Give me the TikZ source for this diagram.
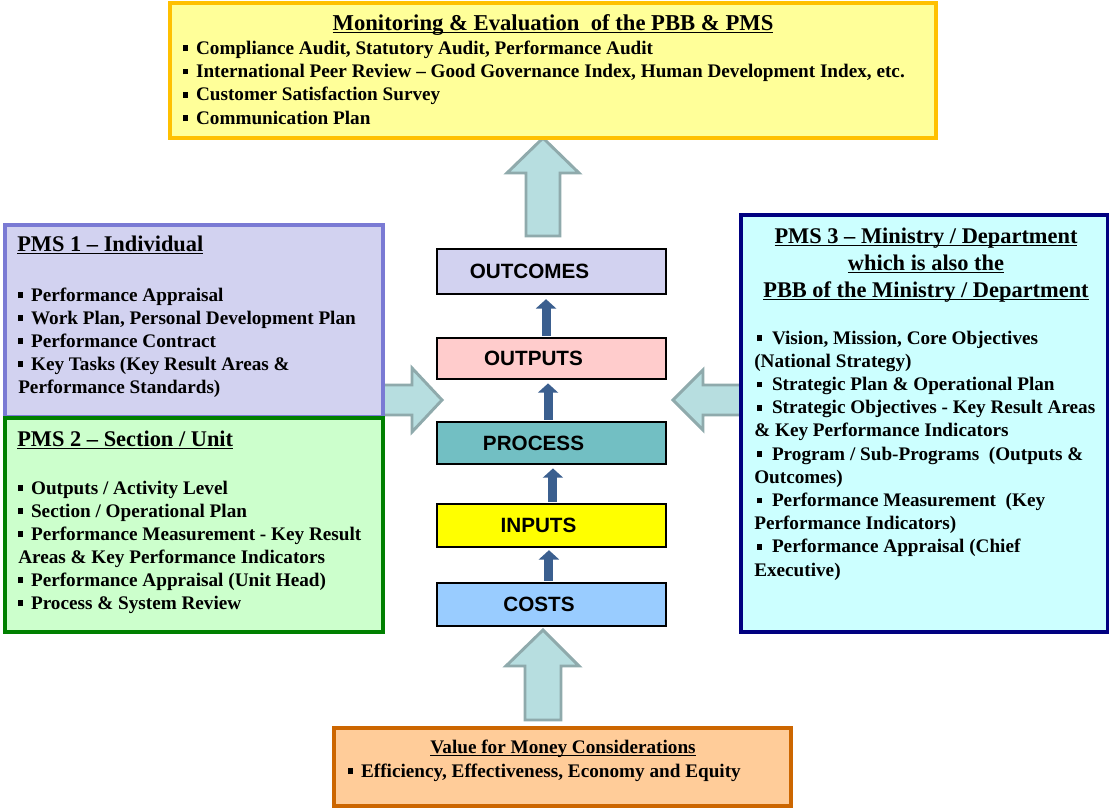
\documentclass[tikz,border=0pt]{standalone}
\usepackage{fontspec}
\usepackage{graphicx}
\setmainfont{Liberation Serif}
\newfontfamily\arialfont{Liberation Sans}
\usetikzlibrary{arrows.meta,fit}
\definecolor{gold}{HTML}{FFC000}
\definecolor{lyellow}{HTML}{FFFF99}
\definecolor{lavborder}{HTML}{7A7AD4}
\definecolor{lavfill}{HTML}{D2D2F0}
\definecolor{grborder}{HTML}{008000}
\definecolor{grfill}{HTML}{CCFFCC}
\definecolor{navy}{HTML}{000080}
\definecolor{cyfill}{HTML}{CCFFFF}
\definecolor{orborder}{HTML}{CC6600}
\definecolor{orfill}{HTML}{FFCC99}
\definecolor{pinkfill}{HTML}{FFCCCC}
\definecolor{tealfill}{HTML}{72BFC3}
\definecolor{yelfill}{HTML}{FFFF00}
\definecolor{bluefill}{HTML}{99CCFF}
\definecolor{arrowfill}{HTML}{B7DEE0}
\definecolor{arrowdraw}{HTML}{8FAAAC}
\definecolor{flowblue}{HTML}{3B5F8F}
\newcommand\bul{\rule[2.2pt]{3.6pt}{4.3pt}\hspace{6pt}}
\newcommand\bulw{\hspace{2.2pt}\rule[2.2pt]{3.6pt}{4.3pt}\hspace{7.5pt}}
\newcommand\myul[1]{\setbox0\hbox{#1}\rlap{\rule[-2.4pt]{\wd0}{1pt}}\box0}
\newcommand\txtlines[2]{\vtop{\baselineskip=#1\lineskiplimit=-100pt\lineskip=0pt\relax #2}}
\newcommand\ctr[1]{\hbox to 0pt{\hss #1\hss}}
\tikzset{
  box/.style={inner sep=0pt, line width=2.3pt},
  stage/.style={inner sep=0pt, draw=black, line width=1.8pt},
  body/.style={inner sep=0pt, font=\fontsize{14.4}{17.25}\selectfont\bfseries},
  ttl/.style={inner sep=0pt, font=\fontsize{16.8}{20}\selectfont\bfseries},
  stagetext/.style={inner sep=0pt, anchor=base, font=\arialfont\fontsize{15.5}{18}\selectfont\bfseries},
  bigarrow/.style={fill=arrowfill, draw=arrowdraw, line width=2.2pt, line join=miter},
  flow/.style={draw=flowblue, line width=6.75pt, -{Triangle[width=15pt 0, length=7pt 0]}}
}
\begin{document}
\begin{tikzpicture}[x=0.75pt,y=-0.75pt]
\fill[white] (0,0) rectangle (1110,810);
\useasboundingbox (0,0) rectangle (1110,810);

% big block arrows
\draw[bigarrow] (526,236) -- (526,173) -- (507,173) -- (543,138) -- (579,173) -- (560,173) -- (560,236) -- cycle;
\draw[bigarrow] (380,385) -- (412,385) -- (412,368) -- (442,400) -- (412,432) -- (412,415) -- (380,415) -- cycle;
\draw[bigarrow] (744,385) -- (703,385) -- (703,370) -- (673,400) -- (703,430) -- (703,415) -- (744,415) -- cycle;
\draw[bigarrow] (525,720) -- (525,666) -- (506,666) -- (543,630) -- (579,666) -- (561,666) -- (561,720) -- cycle;

% boxes
\node[box, draw=gold, fill=lyellow, fit={(170,3) (936,138)}] (mon) {};
\node[box, draw=lavborder, fill=lavfill, fit={(5,225) (383,417)}] (pms1) {};
\node[box, draw=grborder, fill=grfill, fit={(5,418) (383,632)}] (pms2) {};
\node[box, draw=navy, fill=cyfill, fit={(741,215) (1107.5,632)}] (pms3) {};
\node[box, draw=orborder, fill=orfill, fit={(334,728) (791,806)}] (vfm) {};

% stages
\node[stage, fill=lavfill, fit={(437,249) (666,294)}] (outcomes) {};
\node[stage, fill=pinkfill, fit={(437,338) (666,379)}] (outputs) {};
\node[stage, fill=tealfill, fit={(437,422) (666,464)}] (process) {};
\node[stage, fill=yelfill, fit={(437,504) (666,547)}] (inputs) {};
\node[stage, fill=bluefill, fit={(437,583) (666,626)}] (costs) {};

\node[stagetext] (outcomesT) at (529.5,278) {OUTCOMES};
\node[stagetext] (outputsT) at (533.5,365) {OUTPUTS};
\node[stagetext] (processT) at (533.5,450) {PROCESS};
\node[stagetext] (inputsT) at (538.5,532) {INPUTS};
\node[stagetext] (costsT) at (539,611) {COSTS};

% small flow arrows
\draw[flow] ([xshift=-4.1pt,yshift=0.9pt]outputs.north) -- ([xshift=-4.1pt,yshift=-3pt]outcomes.south);
\draw[flow] ([xshift=-2.6pt,yshift=0.9pt]process.north) -- ([xshift=-2.6pt,yshift=-2.4pt]outputs.south);
\draw[flow] ([xshift=1.1pt,yshift=0.9pt]inputs.north) -- ([xshift=1.1pt,yshift=-2.4pt]process.south);
\draw[flow] ([xshift=-1.9pt,yshift=0.9pt]costs.north) -- ([xshift=-1.9pt,yshift=-1.5pt]inputs.south);

% top box text
\node[inner sep=0pt, anchor=base, font=\fontsize{17}{20}\selectfont\bfseries] (monT) at (553,30)
  {\myul{Monitoring \& Evaluation\ \ of the PBB \& PMS}};
\node[body, anchor=base west] (monB) at (183,54) {\txtlines{17.5pt}{%
  \hbox{\bul Compliance Audit, Statutory Audit, Performance Audit}%
  \hbox{\bul International Peer Review -- Good Governance Index, Human Development Index, etc.}%
  \hbox{\bul Customer Satisfaction Survey}%
  \hbox{\bul Communication Plan}}};

% PMS 1
\node[ttl, anchor=base west] (pms1T) at (17,251) {\myul{PMS 1 -- Individual}};
\node[body, anchor=base west] (pms1B) at (18,301) {\txtlines{17.25pt}{%
  \hbox{\bul Performance Appraisal}%
  \hbox{\bul Work Plan, Personal Development Plan}%
  \hbox{\bul Performance Contract}%
  \hbox{\bul Key Tasks (Key Result Areas \&}%
  \hbox{Performance Standards)}}};

% PMS 2
\node[ttl, anchor=base west] (pms2T) at (17,446) {\myul{PMS 2 -- Section / Unit}};
\node[body, anchor=base west] (pms2B) at (18,494) {\txtlines{17.25pt}{%
  \hbox{\bul Outputs / Activity Level}%
  \hbox{\bul Section / Operational Plan}%
  \hbox{\bul Performance Measurement - Key Result}%
  \hbox{Areas \& Key Performance Indicators}%
  \hbox{\bul Performance Appraisal (Unit Head)}%
  \hbox{\bul Process \& System Review}}};

% PMS 3
\node[ttl, anchor=base] (pms3T) at (926,243) {\txtlines{20.25pt}{%
  \ctr{\myul{PMS 3 -- Ministry / Department}}%
  \ctr{\myul{which is also the}}%
  \ctr{\myul{PBB of the Ministry / Department}}}};
\node[body, anchor=base west] (pms3B) at (754,344) {\txtlines{17.4pt}{%
  \hbox{\bulw Vision, Mission, Core Objectives}%
  \hbox{(National Strategy)}%
  \hbox{\bulw Strategic Plan \& Operational Plan}%
  \hbox{\bulw Strategic Objectives - Key Result Areas}%
  \hbox{\& Key Performance Indicators}%
  \hbox{\bulw Program / Sub-Programs\ \ (Outputs \&}%
  \hbox{Outcomes)}%
  \hbox{\bulw Performance Measurement\ \ (Key}%
  \hbox{Performance Indicators)}%
  \hbox{\bulw Performance Appraisal (Chief}%
  \hbox{Executive)}}};

% bottom box
\node[body, anchor=base] (vfmT) at (563,753) {\myul{Value for Money Considerations}};
\node[body, anchor=base west] (vfmB) at (348,777) {\bul Efficiency, Effectiveness, Economy and Equity};
\end{tikzpicture}
\end{document}
